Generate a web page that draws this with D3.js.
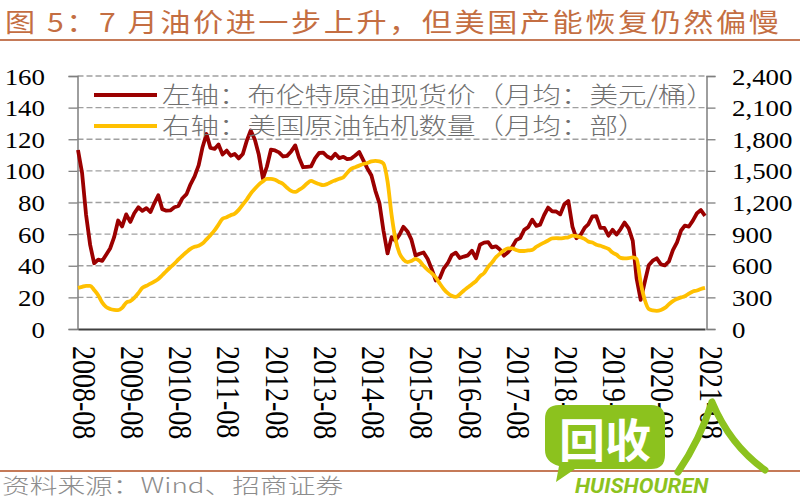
<!DOCTYPE html>
<html><head><meta charset="utf-8">
<script src="https://cdn.jsdelivr.net/npm/d3@7"></script>
<style>
html,body{margin:0;padding:0;background:#fff;}
svg{display:block;}
</style></head>
<body>
<svg id="c" width="800" height="500"></svg>
<script>
// ---------- data ----------
const titleText = "图 5：7 月油价进一步上升，但美国产能恢复仍然偏慢";
const sourceText = "资料来源：Wind、招商证券";
const legendLabels = ["左轴：布伦特原油现货价（月均：美元/桶）", "右轴：美国原油钻机数量（月均：部）"];
const startMonth = "2008-08";
const xTickLabels = ["2008-08","2009-08","2010-08","2011-08","2012-08","2013-08","2014-08","2015-08","2016-08","2017-08","2018-08","2019-08","2020-08","2021-08"];
const leftTicks = [0,20,40,60,80,100,120,140,160];
const rightTicks = [0,300,600,900,1200,1500,1800,2100,2400];
// Brent monthly average, USD/bbl, 2008-08 .. 2021-08
const brent = [
 113.2, 98.6, 72.3, 53.2, 41.6,
 43.9, 43.1, 46.8, 50.9, 57.9, 68.6, 64.9, 72.5, 67.7, 73.2, 77.0, 74.7,
 76.4, 74.0, 79.3, 84.6, 75.8, 74.8, 75.0, 77.0, 77.8, 82.7, 85.3, 91.5,
 96.5, 103.7, 114.6, 123.3, 114.5, 113.9, 116.7, 110.4, 112.8, 109.6, 110.7, 107.9,
 110.7, 119.3, 125.5, 119.8, 110.3, 95.2, 102.6, 113.4, 112.9, 111.7, 109.1, 109.5,
 112.3, 116.1, 108.5, 102.3, 102.6, 102.9, 107.9, 111.3, 111.6, 109.1, 107.8, 110.8,
 108.1, 108.9, 107.5, 107.8, 109.7, 111.9, 106.8, 101.6, 97.1, 87.4, 79.4, 62.3,
 47.8, 58.1, 55.9, 59.5, 64.6, 61.7, 56.5, 46.5, 47.6, 48.4, 44.3, 38.0,
 30.7, 32.2, 38.2, 41.6, 46.7, 48.3, 44.9, 45.8, 46.6, 49.5, 44.7, 53.3,
 54.6, 54.9, 51.6, 52.3, 50.3, 46.4, 48.5, 51.7, 56.2, 57.5, 62.7, 64.4,
 69.1, 65.2, 66.0, 72.1, 76.8, 74.4, 74.3, 72.5, 78.9, 81.0, 64.8, 57.4,
 59.4, 63.9, 66.1, 71.2, 71.3, 64.0, 63.9, 59.0, 62.8, 59.7, 63.2, 67.3,
 63.6, 55.7, 32.0, 18.4, 29.4, 40.3, 43.2, 44.7, 40.9, 40.2, 42.7, 49.9,
 54.8, 62.3, 65.4, 64.8, 68.5, 73.2, 75.2, 71.6
];
// US oil rig count, monthly average, 2008-08 .. 2021-08
const rigs = [
 390, 400, 410, 410, 370,
 320, 250, 210, 190, 182, 180, 200, 250, 265, 295, 340, 390,
 410, 430, 450, 475, 510, 550, 585, 620, 660, 695, 730, 760,
 780, 790, 810, 850, 890, 935, 990, 1045, 1060, 1080, 1095, 1130,
 1180, 1230, 1285, 1330, 1370, 1400, 1425, 1425, 1415, 1395, 1375, 1340,
 1310, 1300, 1320, 1345, 1380, 1405, 1390, 1375, 1365, 1375, 1395, 1410,
 1425, 1440, 1480, 1520, 1535, 1550, 1565, 1575, 1590, 1595, 1590, 1570,
 1400, 1080, 860, 720, 660, 635, 645, 665, 645, 600, 560, 530,
 490, 430, 380, 340, 315, 305, 330, 365, 395, 425, 455, 500,
 530, 590, 630, 680, 715, 745, 765, 765, 750, 740, 740, 745,
 750, 780, 800, 820, 840, 860, 862, 860, 865, 870, 885, 880,
 870, 855, 830, 820, 800, 790, 775, 760, 725, 705, 675, 670,
 672, 680, 665, 440, 280, 190, 176, 172, 180, 200, 235, 265,
 285, 300, 310, 335, 355, 365, 380, 390
];

// ---------- layout ----------
const svg = d3.select("#c");
const X0 = 77.5, X1 = 706.5, YT = 76, YB = 329;
const SX = 1.17; // horizontal text stretch
const parse = d3.timeParse("%Y-%m");
const t0 = parse(startMonth);
const months = brent.map((_, i) => d3.timeMonth.offset(t0, i));
const x = d3.scaleTime().domain([t0, months[months.length-1]]).range([X0+0.5, X1-1.5]);
const yL = d3.scaleLinear().domain([0,160]).range([YB, YT]);
const yR = d3.scaleLinear().domain([0,2400]).range([YB, YT]);

// title
svg.append("text").attr("transform", `translate(5,32) scale(1.16,1)`)
  .attr("font-family", "'Noto Sans CJK SC', sans-serif").attr("font-size", 26)
  .attr("letter-spacing", 2.2).attr("fill", "#c46e42").text(titleText);
svg.append("line").attr("x1",0).attr("x2",800).attr("y1",40).attr("y2",40)
  .attr("stroke","#c57a58").attr("stroke-width",2);

// grid
const grid = svg.append("g");
grid.selectAll("line").data(leftTicks.filter(d => d > 0)).join("line")
  .attr("x1", X0).attr("x2", X1).attr("y1", d => yL(d)).attr("y2", d => yL(d))
  .attr("stroke", "#a0a0a0").attr("stroke-width", 1.3).attr("stroke-dasharray", "6,3");

// left axis
const gl = svg.append("g").attr("transform", `translate(${X0},0)`)
  .call(d3.axisLeft(yL).tickValues(leftTicks).tickSize(9).tickPadding(0).tickFormat(d3.format("d")));
gl.select(".domain").attr("stroke", "#7f7f7f").attr("stroke-width", 1.5);
gl.selectAll(".tick line").attr("stroke", "#7f7f7f").attr("stroke-width", 1.3);
gl.selectAll(".tick text").attr("x", null).attr("dy", null)
  .attr("transform", `translate(${45 - X0},8) scale(${SX},1)`)
  .attr("text-anchor", "end").attr("font-family", "'Liberation Serif', serif")
  .attr("font-size", 23).attr("fill", "#000");

// right axis
const gr = svg.append("g").attr("transform", `translate(${X1},0)`)
  .call(d3.axisRight(yR).tickValues(rightTicks).tickSize(9).tickPadding(0).tickFormat(d3.format(",")));
gr.select(".domain").attr("stroke", "#7f7f7f").attr("stroke-width", 1.5);
gr.selectAll(".tick line").attr("stroke", "#7f7f7f").attr("stroke-width", 1.3);
gr.selectAll(".tick text").attr("x", null).attr("dy", null)
  .attr("transform", `translate(${732 - X1},8) scale(${SX},1)`)
  .attr("text-anchor", "start").attr("font-family", "'Liberation Serif', serif")
  .attr("font-size", 23).attr("fill", "#000");

// bottom axis
const gb = svg.append("g").attr("transform", `translate(0,${YB})`)
  .call(d3.axisBottom(x).tickValues(xTickLabels.map(parse)).tickSize(0).tickFormat(d3.timeFormat("%Y-%m")));
gb.select(".domain").attr("stroke", "#404040").attr("stroke-width", 2);
gb.selectAll(".tick text").attr("y", null).attr("dy", null)
  .attr("transform", `translate(5,17) scale(${SX},1) rotate(90)`)
  .attr("text-anchor", "start").attr("dy", "0.33em")
  .attr("font-family", "'Liberation Serif', serif").attr("font-size", 28).attr("fill", "#000");

// lines
const lineL = d3.line().x((d,i) => x(months[i])).y(d => yL(d)).curve(d3.curveLinear);
const lineR = d3.line().x((d,i) => x(months[i])).y(d => yR(d)).curve(d3.curveMonotoneX);
svg.append("path").datum(brent).attr("d", lineL).attr("fill","none")
  .attr("stroke","#9b0000").attr("stroke-width",3.8).attr("stroke-linejoin","round");
svg.append("path").datum(rigs).attr("d", lineR).attr("fill","none")
  .attr("stroke","#ffc000").attr("stroke-width",3.8).attr("stroke-linejoin","round");

// legend
const legColors = ["#9b0000", "#ffc000"];
const leg = svg.append("g");
legendLabels.forEach((t, i) => {
  const yy = 95 + i * 31;
  leg.append("line").attr("x1", 94).attr("x2", 157).attr("y1", yy).attr("y2", yy)
    .attr("stroke", legColors[i]).attr("stroke-width", 4);
  leg.append("text").attr("transform", `translate(162,${yy + 8}) scale(1.24,1)`)
    .attr("font-family", "'Noto Sans CJK SC', sans-serif").attr("font-size", 23)
    .attr("font-weight", 300).attr("fill", "#707070").text(t);
});

// footer
svg.append("line").attr("x1",0).attr("x2",800).attr("y1",471).attr("y2",471)
  .attr("stroke","#c57a58").attr("stroke-width",2);
svg.append("text").attr("transform","translate(2,493) scale(1.32,1)")
  .attr("font-family","'Noto Sans CJK SC', sans-serif").attr("font-size",21)
  .attr("font-weight", 300).attr("fill","#8c8c8c").text(sourceText);

// watermark
const wm = svg.append("g");
wm.append("path").attr("d","M559,405 H651 Q665,405 665,419 V455 Q665,469 651,469 H575 L556,482 L559,466 Q545,462 545,450 V419 Q545,405 559,405 Z")
  .attr("fill","#8cc21e");
wm.append("text").attr("x",605).attr("y",457).attr("text-anchor","middle")
  .attr("font-family","'Noto Sans CJK SC', sans-serif").attr("font-weight","bold")
  .attr("font-size",46).attr("fill","#fff").text("回收");
wm.append("path").attr("d","M712,402 Q700,440 678,472 M712,402 Q730,445 765,470")
  .attr("fill","none").attr("stroke","#8cc21e").attr("stroke-width",7).attr("stroke-linecap","round");
wm.append("text").attr("transform","translate(575,493) scale(1.05,1)")
  .attr("font-family","'Roboto', sans-serif").attr("font-weight","bold").attr("font-style","italic")
  .attr("font-size",21).attr("fill","#8cc21e").text("HUISHOUREN");
</script>
</body></html>
